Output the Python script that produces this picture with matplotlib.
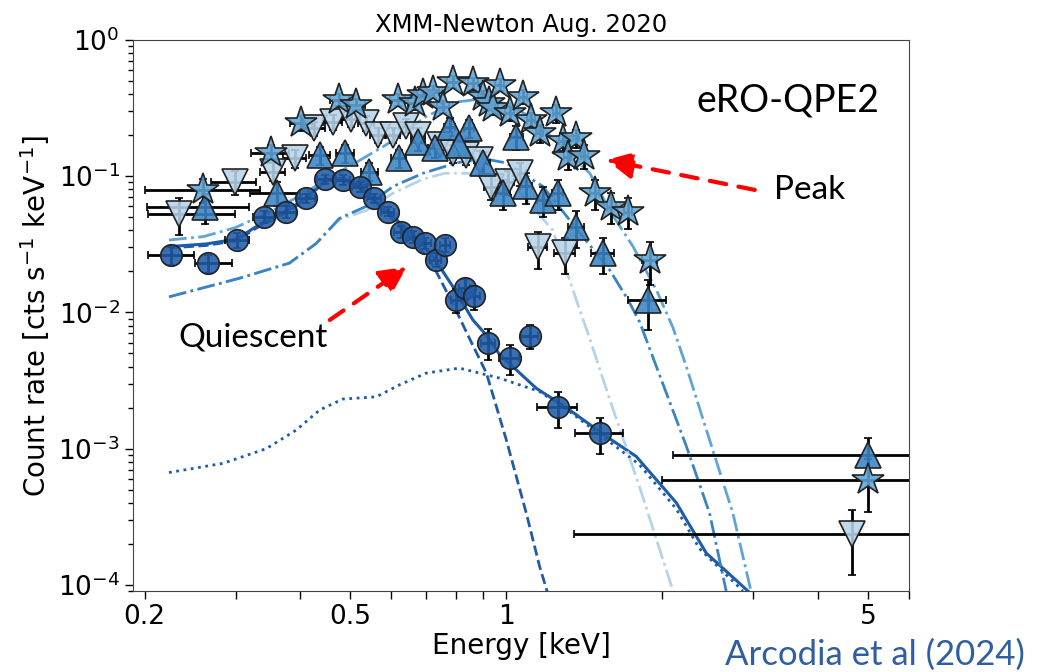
import matplotlib
matplotlib.use('Agg')
import matplotlib.pyplot as plt
import matplotlib.ticker as ticker
from matplotlib.colors import to_rgba
import numpy as np

# ---- quiescent spectrum (circles) ----
q_x = [0.225, 0.265, 0.302, 0.340, 0.376, 0.411, 0.447, 0.483, 0.521, 0.555, 0.590, 0.625,
       0.660, 0.697, 0.730, 0.763, 0.801, 0.831, 0.868, 0.922, 1.015, 1.109, 1.258, 1.519]
q_y = [0.0264, 0.0230, 0.0340, 0.0505, 0.0550, 0.0689, 0.0950, 0.0939, 0.0838, 0.0689, 0.0550, 0.0392,
       0.0360, 0.0322, 0.0243, 0.0313, 0.01235, 0.0150, 0.0131, 0.0060, 0.00461, 0.00676, 0.00201, 0.00130]
q_xlo = [0.022, 0.015, 0.016, 0.016, 0.016, 0.016, 0.016, 0.017, 0.017, 0.017, 0.017, 0.017,
         0.017, 0.017, 0.017, 0.017, 0.02, 0.02, 0.02, 0.03, 0.045, 0.04, 0.11, 0.16]
q_xhi = [0.024, 0.030, 0.016, 0.016, 0.016, 0.016, 0.016, 0.017, 0.017, 0.017, 0.017, 0.017,
         0.017, 0.017, 0.017, 0.017, 0.02, 0.02, 0.02, 0.03, 0.045, 0.04, 0.11, 0.16]
q_rerr = [0.15, 0.15, 0.12, 0.10, 0.10, 0.08, 0.08, 0.08, 0.08, 0.08, 0.08, 0.10,
          0.10, 0.10, 0.12, 0.12, 0.20, 0.18, 0.20, 0.25, 0.25, 0.20, 0.30, 0.30]

# ---- peak, rise/decay (up triangles) ----
t_x = [0.262, 0.360, 0.436, 0.489, 0.544, 0.620, 0.675, 0.727, 0.777, 0.847, 0.812, 0.901,
       1.045, 0.985, 1.093, 1.177, 1.258, 1.365, 1.537, 1.877, 5.0]
t_y = [0.059, 0.075, 0.143, 0.147, 0.108, 0.1355, 0.179, 0.160, 0.231, 0.225, 0.170, 0.1245,
       0.195, 0.075, 0.084, 0.067, 0.075, 0.0427, 0.0272, 0.01235, 8.9e-4]
t_xlo = [0.06, 0.04, 0.02, 0.02, 0.02, 0.02, 0.02, 0.02, 0.02, 0.02, 0.02, 0.03,
         0.03, 0.03, 0.03, 0.03, 0.03, 0.05, 0.08, 0.16, 2.9]
t_xhi = [0.057, 0.04, 0.02, 0.02, 0.02, 0.02, 0.02, 0.02, 0.02, 0.02, 0.02, 0.03,
         0.03, 0.03, 0.03, 0.03, 0.03, 0.05, 0.08, 0.16, 4.0]
t_rerr = [0.25, 0.2, 0.15, 0.15, 0.15, 0.15, 0.15, 0.15, 0.15, 0.15, 0.15, 0.2,
          0.2, 0.25, 0.25, 0.25, 0.25, 0.3, 0.3, 0.4, 0.35]

# ---- peak maximum (stars) ----
s_x = [0.259, 0.351, 0.402, 0.476, 0.513, 0.617, 0.665, 0.690, 0.722, 0.755, 0.789, 0.862,
       0.901, 0.928, 0.942, 0.971, 1.015, 1.077, 1.118, 1.160, 1.249, 1.286, 1.365, 1.315,
       1.416, 1.482, 1.596, 1.717, 1.892, 5.0]
s_y = [0.0793, 0.147, 0.245, 0.363, 0.333, 0.363, 0.343, 0.395, 0.417, 0.324, 0.494, 0.481,
       0.384, 0.343, 0.315, 0.468, 0.290, 0.384, 0.259, 0.207, 0.290, 0.180, 0.190, 0.139,
       0.140, 0.075, 0.0598, 0.055, 0.0243, 5.9e-4]
s_xlo = [0.059, 0.03, 0.02, 0.02, 0.02, 0.02, 0.02, 0.02, 0.02, 0.02, 0.02, 0.02,
         0.02, 0.02, 0.02, 0.02, 0.02, 0.02, 0.02, 0.02, 0.02, 0.02, 0.02, 0.02,
         0.02, 0.03, 0.03, 0.03, 0.06, 3.0]
s_xhi = [0.076, 0.03, 0.02, 0.02, 0.02, 0.02, 0.02, 0.02, 0.02, 0.02, 0.02, 0.02,
         0.02, 0.02, 0.02, 0.02, 0.02, 0.02, 0.02, 0.02, 0.02, 0.02, 0.02, 0.02,
         0.02, 0.03, 0.03, 0.03, 0.06, 4.0]
s_rerr = [0.2, 0.15, 0.12, 0.1, 0.1, 0.1, 0.1, 0.1, 0.1, 0.1, 0.1, 0.1,
          0.1, 0.1, 0.1, 0.1, 0.12, 0.12, 0.12, 0.15, 0.15, 0.15, 0.15, 0.2,
          0.2, 0.25, 0.25, 0.25, 0.35, 0.42]

# ---- peak, early/late (down triangles) ----
d_x = [0.2327, 0.2985, 0.354, 0.390, 0.426, 0.462, 0.502, 0.536, 0.565, 0.604, 0.641, 0.675,
       0.743, 0.789, 0.837, 0.888, 0.934, 1.007, 1.061, 1.150, 1.296, 4.66]
d_y = [0.053, 0.0912, 0.108, 0.1355, 0.225, 0.25, 0.262, 0.245, 0.20, 0.20, 0.235, 0.20,
       0.17, 0.147, 0.143, 0.132, 0.0838, 0.0912, 0.105, 0.030, 0.0272, 2.37e-4]
d_xlo = [0.030, 0.03, 0.02, 0.02, 0.02, 0.02, 0.02, 0.02, 0.02, 0.02, 0.02, 0.02,
         0.02, 0.02, 0.02, 0.02, 0.03, 0.03, 0.03, 0.05, 0.06, 3.31]
d_xhi = [0.067, 0.03, 0.02, 0.02, 0.02, 0.02, 0.02, 0.02, 0.02, 0.02, 0.02, 0.02,
         0.02, 0.02, 0.02, 0.02, 0.03, 0.03, 0.03, 0.05, 0.06, 4.0]
d_rerr = [0.3, 0.2, 0.15, 0.15, 0.12, 0.12, 0.12, 0.12, 0.12, 0.12, 0.12, 0.12,
          0.15, 0.15, 0.15, 0.15, 0.2, 0.2, 0.2, 0.3, 0.3, 0.5]

# ---- models ----
qtot_x = [0.223, 0.263, 0.301, 0.329, 0.365, 0.411, 0.446, 0.483, 0.520, 0.590, 0.660, 0.722,
          0.789, 0.862, 0.915, 0.971, 1.015, 1.143, 1.306, 1.560, 1.783, 2.131, 2.434, 2.930]
qtot_y = [0.0304, 0.0318, 0.0345, 0.0427, 0.052, 0.069, 0.094, 0.0965, 0.085, 0.055, 0.037, 0.0257,
          0.0154, 0.0088, 0.0068, 0.0049, 0.0042, 0.00277, 0.0020, 0.00123, 8.75e-4, 4.0e-4, 1.71e-4, 9e-5]
qbb_x = [0.223, 0.263, 0.301, 0.329, 0.365, 0.411, 0.446, 0.483, 0.520, 0.590, 0.660, 0.722,
         0.789, 0.843, 0.915, 1.000, 1.093, 1.160, 1.210]
qbb_y = [0.0297, 0.0310, 0.0336, 0.0416, 0.0508, 0.0673, 0.0921, 0.0942, 0.0827, 0.0526, 0.0340, 0.0221,
         0.0115, 0.0068, 0.0036, 0.00116, 3.36e-4, 1.36e-4, 8e-5]
qpl_x = [0.223, 0.284, 0.344, 0.393, 0.436, 0.483, 0.561, 0.622, 0.700, 0.812, 0.915, 0.971,
         1.160, 1.306, 1.584, 1.810, 2.131, 2.360, 2.865]
qpl_y = [6.67e-4, 7.8e-4, 1.0e-3, 1.37e-3, 1.92e-3, 2.31e-3, 2.4e-3, 2.94e-3, 3.58e-3, 3.9e-3, 3.48e-3, 3.29e-3,
         2.62e-3, 1.95e-3, 1.12e-3, 7.6e-4, 3.6e-4, 1.85e-4, 9e-5]
ms_x = [0.223, 0.260, 0.300, 0.350, 0.400, 0.450, 0.516, 0.586, 0.700, 0.800, 0.900, 1.000,
        1.100, 1.250, 1.450, 1.596, 1.757, 1.950, 2.100, 2.228, 2.470, 2.740, 2.970]
ms_y = [0.034, 0.036, 0.042, 0.055, 0.072, 0.095, 0.128, 0.170, 0.274, 0.350, 0.370, 0.340,
        0.280, 0.180, 0.105, 0.0535, 0.0305, 0.0146, 0.0077, 0.0040, 1.16e-3, 3.36e-4, 9e-5]
mt_x = [0.223, 0.305, 0.381, 0.429, 0.476, 0.536, 0.604, 0.690, 0.800, 0.900, 1.000, 1.177,
        1.406, 1.584, 1.718, 1.810, 1.950, 2.228, 2.470, 2.660]
mt_y = [0.013, 0.0178, 0.023, 0.032, 0.049, 0.060, 0.084, 0.105, 0.125, 0.135, 0.125, 0.084,
        0.036, 0.0205, 0.0124, 0.0085, 0.0040, 1.04e-3, 3.36e-4, 9e-5]
md_x = [0.223, 0.305, 0.381, 0.429, 0.476, 0.536, 0.604, 0.690, 0.760, 0.840, 0.950, 1.050,
        1.230, 1.365, 1.450, 1.584, 1.810, 2.100]
md_y = [0.013, 0.0178, 0.023, 0.032, 0.048, 0.056, 0.075, 0.095, 0.105, 0.105, 0.095, 0.080,
        0.040, 0.0124, 0.0064, 0.0023, 5.2e-4, 9e-5]

c_q = '#1f5ba6'
c_t = '#3a84c4'
c_s = '#5ea4d6'
c_d = '#b7d3e9'

plt.rcParams['font.family'] = 'DejaVu Sans'
fig = plt.figure(figsize=(10.48, 6.72), dpi=100)
ax = fig.add_axes([0.1269, 0.1205, 0.7405, 0.82])


def spec(x, y, xlo, xhi, rerr, marker, color, ms, z):
    x = np.array(x)
    y = np.array(y)
    r = np.array(rerr)
    ax.errorbar(x, y, xerr=[xlo, xhi], yerr=[y * r, y * r], fmt=marker, ms=ms,
                mfc=to_rgba(color, 0.88), mec='#222222', mew=1.2,
                ecolor='black', elinewidth=2, capsize=3, capthick=2, zorder=z)


ax.plot(qpl_x, qpl_y, ':', color=c_q, lw=2, zorder=2)
ax.plot(qbb_x, qbb_y, '--', color=c_q, lw=2, zorder=2)
ax.plot(qtot_x, qtot_y, '-', color=c_q, lw=2.2, zorder=2)
ax.plot(md_x, md_y, '-.', color=c_d, lw=2, zorder=2)
ax.plot(mt_x, mt_y, '-.', color=c_t, lw=2, zorder=2)
ax.plot(ms_x, ms_y, '-.', color=c_s, lw=2, zorder=2)

spec(q_x, q_y, q_xlo, q_xhi, q_rerr, 'o', c_q, 15.5, 5)
spec(d_x, d_y, d_xlo, d_xhi, d_rerr, 'v', c_d, 19, 4)
spec(t_x, t_y, t_xlo, t_xhi, t_rerr, '^', c_t, 19, 4)
spec(s_x, s_y, s_xlo, s_xhi, s_rerr, '*', c_s, 24, 4)

ax.set_xscale('log')
ax.set_yscale('log')
ax.set_xlim(0.19, 6.0)
ax.set_ylim(9.0e-5, 1.0)

ax.xaxis.set_major_locator(ticker.FixedLocator([0.2, 0.5, 1, 5]))
ax.xaxis.set_major_formatter(ticker.FixedFormatter(['0.2', '0.5', '1', '5']))
ax.xaxis.set_minor_locator(ticker.FixedLocator([0.3, 0.4, 0.6, 0.7, 0.8, 0.9, 2, 3, 4, 6]))
ax.xaxis.set_minor_formatter(ticker.NullFormatter())
ax.tick_params(axis='x', which='both', length=6, width=1, labelsize=19, direction='out')
ax.tick_params(axis='y', which='major', length=6, width=1, labelsize=19)
ax.tick_params(axis='y', which='minor', length=3.5, width=1)
for sp in ax.spines.values():
    sp.set_color('#444444')

ax.set_xlabel('Energy [keV]', fontsize=20, labelpad=1)
ax.set_ylabel('Count rate [cts s$^{-1}$ keV$^{-1}$]', fontsize=20)
ax.set_title('XMM-Newton Aug. 2020', fontsize=17.5, pad=6)

calib = ['Lato', 'DejaVu Sans']
ax.text(3.5, 0.36, 'eRO-QPE2', fontsize=27, family=calib, ha='center', va='center')
ax.text(3.86, 0.079, 'Peak', fontsize=24, family=calib, ha='center', va='center')
ax.text(0.3236, 0.0065, 'Quiescent', fontsize=24, family=calib, ha='center', va='center')

arrow = dict(arrowstyle='-|>,head_length=0.9,head_width=0.45', color='red', lw=3,
             linestyle=(0, (4, 3)), shrinkA=0, shrinkB=0, mutation_scale=18)
ax.annotate('', xy=(1.56, 0.1316), xytext=(3.02, 0.0793), arrowprops=arrow)
ax.annotate('', xy=(0.642, 0.0216), xytext=(0.456, 0.0088), arrowprops=arrow)

fig.text(0.978, 0.025, 'Arcodia et al (2024)', fontsize=25, family=calib,
         color='#2f5fa0', ha='right', va='center')

fig.savefig('out.png', dpi=100)
